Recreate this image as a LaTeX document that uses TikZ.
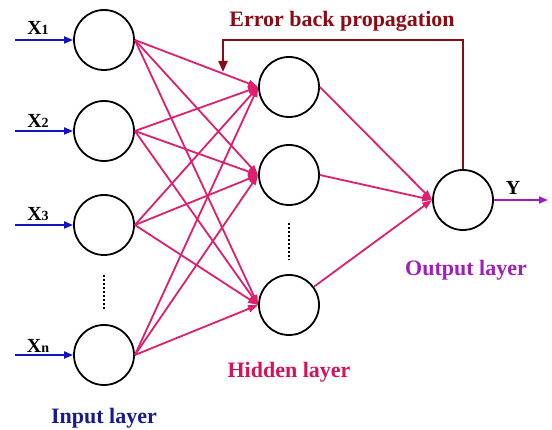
\documentclass[tikz,border=0pt]{standalone}
\usepackage{fontspec}
\setmainfont{Liberation Serif}
\usetikzlibrary{arrows.meta}
\definecolor{inblue}{RGB}{20,20,190}
\definecolor{labblue}{RGB}{25,25,150}
\definecolor{pinkline}{RGB}{222,30,110}
\definecolor{hidtext}{RGB}{210,20,90}
\definecolor{outpurple}{RGB}{160,30,190}
\definecolor{errred}{RGB}{140,10,20}
\begin{document}
\begin{tikzpicture}[x=1pt,y=-1pt,
  neuron/.style={circle,draw=black,line width=1.8pt,minimum size=60pt,inner sep=0pt},
  inarrow/.style={draw=inblue,line width=1.8pt,-{Triangle[length=9pt,width=7pt]}},
  wline/.style={draw=pinkline,line width=1.8pt,-{Triangle[length=10pt,width=7pt]}},
  xlab/.style={font=\bfseries\fontsize{20}{20}\selectfont,inner sep=0pt},
  laylab/.style={font=\bfseries\fontsize{22}{22}\selectfont,inner sep=0pt},
  vdots/.style={draw=black,line width=2.2pt,dash pattern=on 2pt off 2pt}]
\useasboundingbox (0,0) rectangle (552,430);
% input nodes
\node[neuron] (i1) at (104,40) {};
\node[neuron] (i2) at (104,131) {};
\node[neuron] (i3) at (104,225) {};
\node[neuron] (in) at (104,355) {};
% hidden nodes
\node[neuron] (h1) at (289,87) {};
\node[neuron] (h2) at (289,175) {};
\node[neuron] (h3) at (289,305) {};
% output
\node[neuron] (o) at (463,200) {};
% input arrows
\coordinate (s1) at (15,40);
\coordinate (s2) at (15,131);
\coordinate (s3) at (15,225);
\coordinate (sn) at (15,355);
\draw[inarrow] (s1) -- (i1.west);
\draw[inarrow] (s2) -- (i2.west);
\draw[inarrow] (s3) -- (i3.west);
\draw[inarrow] (sn) -- (in.west);
\node[xlab] (lx1) at (38,28) {X{\fontsize{14}{14}\selectfont 1}};
\node[xlab] (lx2) at (38,121) {X{\fontsize{14}{14}\selectfont 2}};
\node[xlab] (lx3) at (38,214) {X{\fontsize{14}{14}\selectfont 3}};
\node[xlab] (lxn) at (38,346) {X{\fontsize{14}{14}\selectfont n}};
% dots
\coordinate (d1a) at (104,275);
\coordinate (d1b) at (104,310);
\draw[vdots] (d1a) -- (d1b);
\coordinate (d2a) at (289,223);
\coordinate (d2b) at (289,260);
\draw[vdots] (d2a) -- (d2b);
% input to hidden
\foreach \a in {i1,i2,i3,in}{
  \foreach \b in {h1,h2,h3}{
    \draw[wline] (\a.east) -- (\b.west);
  }
}
% hidden to output
\draw[wline] (h1.east) -- (o.west);
\draw[wline] (h2.east) -- (o.west);
\draw[wline] (h3) -- (o.west);
% output arrow
\coordinate (yend) at (548,200);
\draw[draw=outpurple,line width=1.8pt,-{Triangle[length=9pt,width=7pt]}] (o.east) -- (yend);
\node[xlab] (ly) at (513,188) {Y};
% error back propagation
\coordinate (e1) at (463,40);
\coordinate (e2) at (223,40);
\coordinate (e3) at (223,72);
\draw[draw=errred,line width=2.2pt,-{Triangle[length=11pt,width=9pt]}] (o.north) -- (e1) -- (e2) -- (e3);
\node[laylab,text=errred] (elab) at (342,21) {Error back propagation};
% layer labels
\node[laylab,text=labblue] (linput) at (104,418) {Input layer};
\node[laylab,text=hidtext] (lhidden) at (289,372) {Hidden layer};
\node[laylab,text=outpurple] (loutput) at (466,270) {Output layer};
\end{tikzpicture}
\end{document}
